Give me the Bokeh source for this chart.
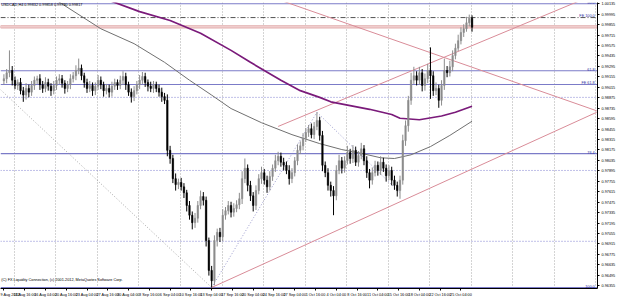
from bokeh.plotting import figure
from bokeh.models import Range1d, FixedTicker, PrintfTickFormatter, CustomJSTickFormatter, ColumnDataSource, Label
from bokeh.core.properties import value
from bokeh.embed import file_html
from bokeh.resources import INLINE

first_open = 0.9910
closes = [
    0.9913, 0.9921, 0.9924, 0.9911, 0.9904, 0.9908, 0.9897, 0.9891, 0.9900, 0.9895,
    0.9904, 0.9911, 0.9913, 0.9905, 0.9900, 0.9908, 0.9903, 0.9897, 0.9904, 0.9911,
    0.9913, 0.9907, 0.9900, 0.9905, 0.9913, 0.9917, 0.9924, 0.9927, 0.9917, 0.9908,
    0.9900, 0.9904, 0.9897, 0.9903, 0.9911, 0.9905, 0.9897, 0.9900, 0.9895, 0.9903,
    0.9908, 0.9904, 0.9911, 0.9916, 0.9905, 0.9895, 0.9889, 0.9897, 0.9905, 0.9911,
    0.9916, 0.9908, 0.9903, 0.9900, 0.9905, 0.9900, 0.9895, 0.9889, 0.9884, 0.9817,
    0.9806, 0.9779, 0.9771, 0.9774, 0.9768, 0.9760, 0.9743, 0.9730, 0.9720, 0.9726,
    0.9743, 0.9755, 0.9750, 0.9696, 0.9656, 0.9642, 0.9696, 0.9707, 0.9701, 0.9730,
    0.9736, 0.9743, 0.9734, 0.9739, 0.9744, 0.9752, 0.9779, 0.9793, 0.9770, 0.9756,
    0.9743, 0.9763, 0.9779, 0.9787, 0.9777, 0.9768, 0.9782, 0.9793, 0.9803, 0.9809,
    0.9801, 0.9797, 0.9790, 0.9779, 0.9787, 0.9803, 0.9817, 0.9823, 0.9833, 0.9841,
    0.9846, 0.9838, 0.9849, 0.9857, 0.9837, 0.9797, 0.9787, 0.9770, 0.9763, 0.9756,
    0.9790, 0.9803, 0.9793, 0.9803, 0.9814, 0.9806, 0.9817, 0.9801, 0.9810, 0.9819,
    0.9803, 0.9787, 0.9777, 0.9787, 0.9797, 0.9790, 0.9801, 0.9793, 0.9783, 0.9790,
    0.9777, 0.9770, 0.9763, 0.9777, 0.9830, 0.9850, 0.9884, 0.9911, 0.9917, 0.9911,
    0.9921, 0.9904, 0.9913, 0.9924, 0.9917, 0.9897, 0.9900, 0.9884, 0.9904, 0.9924,
    0.9921, 0.9929, 0.9944, 0.9954, 0.9964, 0.9975, 0.9980, 0.9988, 0.9994, 0.9982,
]
up_pips = [
    6, 5, 27, 6, 5, 4, 6, 5, 7, 5,
    6, 5, 4, 6, 5, 7, 5, 4, 6, 5,
    6, 5, 4, 5, 6, 5, 7, 13, 5, 4,
    5, 6, 4, 5, 7, 5, 4, 6, 5, 6,
    5, 4, 6, 7, 5, 4, 5, 6, 5, 7,
    6, 5, 4, 6, 5, 4, 5, 6, 5, 8,
    6, 5, 7, 5, 6, 5, 4, 6, 5, 7,
    6, 8, 6, 5, 4, 6, 7, 5, 6, 8,
    5, 6, 5, 7, 6, 8, 10, 13, 5, 6,
    5, 7, 6, 8, 5, 6, 7, 5, 8, 6,
    5, 6, 5, 7, 6, 5, 8, 6, 7, 6,
    5, 7, 6, 11, 5, 6, 5, 6, 5, 6,
    7, 8, 5, 6, 9, 5, 7, 5, 6, 8,
    5, 6, 5, 7, 6, 5, 8, 6, 5, 7,
    5, 6, 5, 6, 8, 7, 6, 10, 12, 6,
    8, 5, 7, 9, 31, 6, 8, 5, 7, 16,
    6, 8, 7, 6, 8, 7, 6, 8, 5, 4,
]
dn_pips = [
    5, 6, 6, 7, 5, 6, 5, 9, 6, 7,
    5, 6, 5, 7, 6, 5, 6, 7, 5, 6,
    5, 6, 7, 5, 6, 5, 6, 5, 6, 7,
    6, 5, 7, 6, 5, 6, 8, 5, 7, 6,
    5, 6, 5, 6, 7, 5, 8, 6, 5, 6,
    5, 6, 7, 5, 6, 5, 6, 7, 5, 8,
    7, 6, 8, 6, 5, 7, 8, 6, 9, 7,
    6, 5, 7, 8, 7, 9, 6, 8, 7, 6,
    6, 5, 7, 6, 5, 6, 7, 6, 8, 7,
    8, 6, 5, 7, 6, 8, 5, 6, 5, 6,
    6, 7, 5, 8, 6, 5, 6, 5, 6, 5,
    6, 5, 6, 5, 7, 8, 6, 7, 8, 26,
    6, 5, 7, 6, 5, 7, 6, 5, 6, 5,
    6, 7, 11, 6, 5, 7, 6, 5, 8, 6,
    7, 6, 8, 11, 6, 7, 8, 6, 5, 7,
    6, 8, 7, 6, 31, 7, 6, 10, 7, 6,
    6, 5, 6, 5, 4, 5, 6, 4, 5, 6,
]

# moving averages (bar index, value)
ma_slow_bar = [20, 38, 49, 60, 71, 82, 89, 100, 107, 114, 118, 125, 132, 140, 143, 150, 158, 163, 169]
ma_slow_val = [1.0045, 1.0018, 1.0003, 0.9991, 0.9974, 0.9951, 0.9935, 0.9911, 0.9897, 0.9888,
               0.9882, 0.9877, 0.9872, 0.9865, 0.9860, 0.9858, 0.9863, 0.9868, 0.9876]
ma_fast_bar = [10, 19, 35, 47, 58, 67, 75, 82, 93, 104, 114, 122, 129, 136, 141, 147, 154, 161, 169]
ma_fast_val = [1.0051, 1.0018, 0.9980, 0.9960, 0.9935, 0.9911, 0.9891, 0.9873, 0.9854, 0.9838,
               0.9826, 0.9818, 0.9813, 0.9807, 0.9806, 0.9811, 0.9822, 0.9837, 0.9856]

# Fibonacci retracement (high off-chart to Sep low)
fib_high, fib_low = 1.0394, 0.9633
fib_ratios = [0.5, 0.618, 0.764, 1.0]
fib_names = ["50.0", "61.8", "76.4", "100.0"]
# Fibonacci expansion anchors A-B-C
fe_bar = [75, 113, 143]
fe_val = [0.9633, 0.9868, 0.9760]
fe_ratios = [0.618]
fe_names = ["FE 61.8"]
fe_top_level = 0.9995
fe_top_name = "FE 100.0"

# dotted horizontal levels, zone, trendlines
dot_levels = [0.9888, 0.9790, 0.9695]
zone_top, zone_bot = 0.9984, 0.9981
trend_up1 = ([75, 214], [0.9633, 0.9868])
trend_up2 = ([99, 214], [0.9849, 1.0027])
trend_dn = ([100, 214], [1.0018, 0.9870])
fib_diag = ([-2, 75], [0.9901, 0.9633])
current_price = 0.99817

time_labels = ["9 Aug 2012", "13 Aug 16:00", "16 Aug 04:00", "20 Aug 16:00", "23 Aug 04:00",
               "27 Aug 16:00", "30 Aug 04:00", "3 Sep 16:00", "6 Sep 04:00", "10 Sep 16:00",
               "13 Sep 04:00", "17 Sep 16:00", "20 Sep 04:00", "24 Sep 16:00", "27 Sep 04:00",
               "1 Oct 16:00", "4 Oct 04:00", "8 Oct 16:00", "11 Oct 04:00", "15 Oct 16:00",
               "18 Oct 04:00", "22 Oct 16:00", "25 Oct 04:00"]
price_ticks = [0.96355, 0.96495, 0.96635, 0.96775, 0.96915, 0.97055, 0.97195, 0.97335,
               0.97475, 0.97615, 0.97755, 0.97895, 0.98035, 0.98175, 0.98315, 0.98455,
               0.98595, 0.98735, 0.98875, 0.99015, 0.99155, 0.99295, 0.99435, 0.99575,
               0.99715, 0.99855, 0.99995, 1.00135]

# ---------------- figure ----------------
X0, X1 = -1.23, 214.3
Y0, Y1 = 0.96317, 1.00152
FONT = "Liberation Sans"
FS = "3.8px"

p = figure(width=625, height=303, x_range=Range1d(X0, X1), y_range=Range1d(Y0, Y1),
           y_axis_location="right", output_backend="svg", toolbar_location=None,
           min_border_left=0, min_border_right=28, min_border_top=2, min_border_bottom=15,
           background_fill_color="white", border_fill_color="white")
p.outline_line_color = None
p.ygrid.visible = False
p.xgrid.ticker = FixedTicker(ticks=[3.75 + 15 * j for j in range(15)])
p.xgrid.grid_line_color = "#a8a8a8"
p.xgrid.grid_line_dash = "1 2"

ya = p.yaxis[0]
ya.ticker = FixedTicker(ticks=price_ticks)
ya.formatter = PrintfTickFormatter(format="%.5f")
xa = p.xaxis[0]
xa.ticker = FixedTicker(ticks=[7.5 * i for i in range(len(time_labels))])
xa.formatter = CustomJSTickFormatter(args=dict(labels=time_labels),
                                     code="const i = Math.round(tick / 7.5); return labels[i] || '';")
xa.major_label_text_align = "left"
for ax in (xa, ya):
    ax.major_label_text_font = FONT
    ax.major_label_text_font_size = FS
    ax.major_label_text_color = "black"
    ax.axis_line_color = "black"
    ax.major_tick_line_color = "black"
    ax.major_tick_out = 2
    ax.major_tick_in = 0
    ax.minor_tick_line_color = None
    ax.major_label_standoff = 2

# horizontal levels
for r, name in zip(fib_ratios, fib_names):
    lv = fib_high - r * (fib_high - fib_low)
    p.line([X0, X1], [lv, lv], line_color="#7b7bc8", line_width=1.2)
    p.text([X1 - 1], [lv], text=[name], text_align="right", text_baseline="bottom",
           text_font=value(FONT), text_font_size=FS, text_color="#3030a0")
ab = fe_val[1] - fe_val[0]
for r, name in zip(fe_ratios, fe_names):
    lv = fe_val[2] + r * ab
    p.line([X0, X1], [lv, lv], line_color="#7b7bc8", line_width=1.2)
    p.text([X1 - 1], [lv], text=[name], text_align="right", text_baseline="bottom",
           text_font=value(FONT), text_font_size=FS, text_color="#3030a0")
p.line([X0, X1], [fe_top_level, fe_top_level], line_color="#404040", line_width=0.9, line_dash="5 2 1 2")
p.text([X1 - 1], [fe_top_level], text=[fe_top_name], text_align="right", text_baseline="bottom",
       text_font=value(FONT), text_font_size=FS, text_color="#3030a0")
for lv in dot_levels:
    p.line([X0, X1], [lv, lv], line_color="#8080d0", line_width=1, line_dash="1 2")
p.quad(left=[X0], right=[X1], top=[zone_top], bottom=[zone_bot],
       fill_color="#f6dada", line_color="#d99a9a", line_width=0.8)

# diagonal lines
p.line(fib_diag[0], fib_diag[1], line_color="#909090", line_width=0.8, line_dash="1 2")
p.line(fe_bar[:2], fe_val[:2], line_color="#8080c0", line_width=0.8, line_dash="1 2")
p.line(fe_bar[1:], fe_val[1:], line_color="#8080c0", line_width=0.8, line_dash="1 2")
for xs, ys in (trend_up1, trend_up2, trend_dn):
    p.line(xs, ys, line_color="#d98c98", line_width=1)

# moving averages
p.line(ma_fast_bar, ma_fast_val, line_color="#707070", line_width=1)
p.line(ma_slow_bar, ma_slow_val, line_color="#7a1a7a", line_width=1.7)

# candles
opens = [first_open] + closes[:-1]
bars = list(range(len(closes)))
highs = [max(o, c) + u * 1e-4 for o, c, u in zip(opens, closes, up_pips)]
lows = [min(o, c) - d * 1e-4 for o, c, d in zip(opens, closes, dn_pips)]
cols = ["#8c8c8c" if c >= o else "#000000" for o, c in zip(opens, closes)]
src = ColumnDataSource(dict(x=bars, o=opens, c=closes, h=highs, l=lows, col=cols))
p.segment(x0="x", x1="x", y0="l", y1="h", line_color="col", line_width=1, source=src)
p.vbar(x="x", width=0.55, top="o", bottom="c", fill_color="col", line_color="col",
       line_width=0.5, source=src)

# texts
p.text([X0 + 0.3], [Y1 - 0.0001], text=["USDCAD,H4  0.99832 0.99858 0.99780 0.99817"],
       text_baseline="top", text_font=value(FONT), text_font_size=FS, text_color="black")
p.text([X0 + 0.3], [Y0 + 0.0009], text=["(C) FX Liquidity Connection, (c) 2001-2012, MetaQuotes Software Corp."],
       text_baseline="bottom", text_font=value(FONT), text_font_size=FS, text_color="black")

# axis price tags
p.add_layout(Label(x=X1, y=current_price, text="%.5f" % current_price, x_offset=1,
                   text_font=FONT, text_font_size=FS, text_color="white", text_baseline="middle",
                   background_fill_color="#cc1010"))
for lv in dot_levels:
    p.add_layout(Label(x=X1, y=lv, text="%.5f" % lv, x_offset=1,
                       text_font=FONT, text_font_size=FS, text_color="white", text_baseline="middle",
                       background_fill_color="#2020c0"))

open("out.html", "w").write(file_html(p, INLINE))
